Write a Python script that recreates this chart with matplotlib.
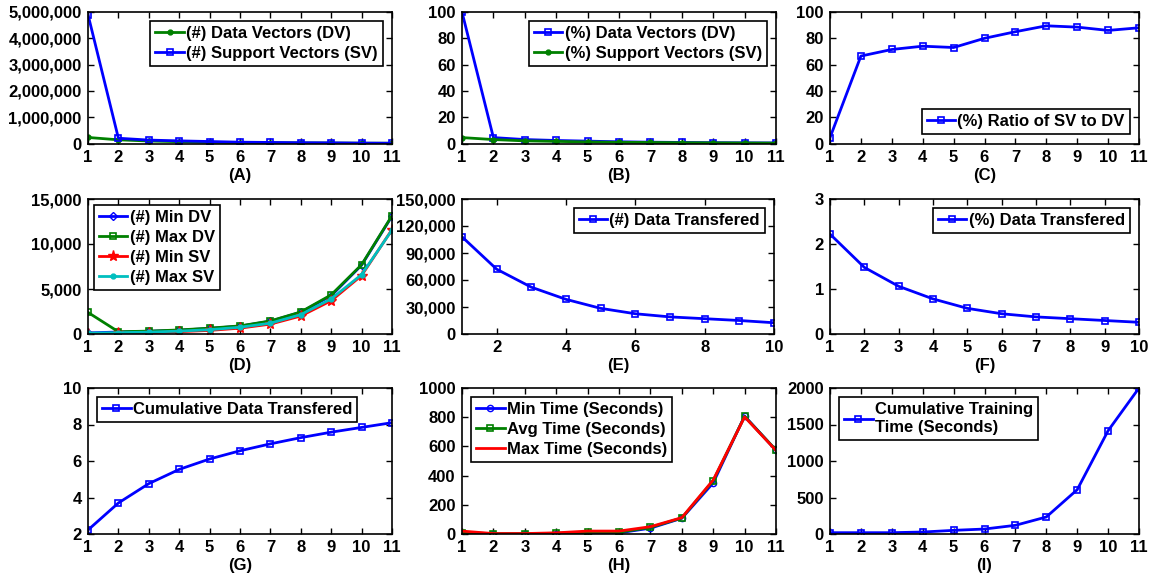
import matplotlib
matplotlib.use('Agg')
import matplotlib.pyplot as plt
from matplotlib.ticker import FuncFormatter

plt.rcParams['font.family'] = ['Liberation Sans', 'DejaVu Sans']
plt.rcParams['font.weight'] = 'bold'
plt.rcParams['font.size'] = 12

steps = list(range(1, 12))
steps10 = list(range(1, 11))

# (A) counts of data / support vectors
dv_count = [230000, 140000, 95000, 70000, 45000, 35000, 28000, 22000, 18000, 12000, 10000]
sv_count = [4900000, 200000, 130000, 100000, 75000, 50000, 40000, 30000, 25000, 15000, 10000]

# (B) percentages
dv_pct = [100, 4.5, 3.0, 2.3, 1.8, 1.3, 1.0, 0.8, 0.6, 0.5, 0.4]
sv_pct = [4.5, 3.0, 2.0, 1.6, 1.2, 0.9, 0.8, 0.6, 0.5, 0.4, 0.3]

# (C) ratio SV/DV
ratio = [4.5, 66.5, 71.5, 74, 73, 80, 85, 89.5, 88.5, 86, 88]

# (D) min / max vectors per node
min_dv = [120, 220, 300, 420, 620, 870, 1420, 2420, 4250, 7650, 13100]
max_dv = [2400, 250, 320, 450, 650, 900, 1450, 2450, 4350, 7700, 13150]
min_sv = [50, 80, 130, 260, 400, 650, 1100, 2000, 3700, 6500, 11600]
max_sv = [100, 150, 210, 320, 480, 750, 1200, 2150, 3900, 6600, 11550]

# (E), (F) data transfered
data_tx = [108000, 72000, 52000, 38500, 28500, 22500, 19000, 17000, 15000, 12500]
data_tx_pct = [2.22, 1.48, 1.06, 0.78, 0.57, 0.45, 0.38, 0.34, 0.30, 0.26]

# (G) cumulative data transfered
cum_tx = [2.22, 3.70, 4.76, 5.54, 6.11, 6.56, 6.94, 7.28, 7.58, 7.84, 8.10]

# (H) training times
min_time = [3, 1, 1, 2, 5, 8, 40, 108, 350, 808, 573]
avg_time = [10, 2, 2, 5, 12, 12, 45, 110, 365, 805, 575]
max_time = [20, 3, 3, 8, 20, 20, 50, 112, 370, 802, 572]

# (I) cumulative training time
cum_time = [18, 18, 18, 27, 50, 68, 119, 233, 607, 1415, 2000]

BLUE = (0, 0, 1)
GREEN = (0, 0.5, 0)
RED = (1, 0, 0)
CYAN = (0, 0.75, 0.75)

W, H = 1157, 577
fig = plt.figure(figsize=(W / 100, H / 100), dpi=100)


def make_ax(left, top, right, bottom):
    ax = fig.add_axes([left / W, 1 - bottom / H, (right - left) / W, (bottom - top) / H])
    ax.tick_params(direction='in', top=True, right=True, length=4, width=1, labelsize=12, pad=4.5)
    for s in ax.spines.values():
        s.set_linewidth(1.2)
    return ax


def comma(v, pos):
    return '{:,.0f}'.format(v)


def legend(ax, loc, pad=0.55):
    lg = ax.legend(loc=loc, fancybox=False, edgecolor='black', framealpha=1, handlelength=1.7,
                   handletextpad=0.15, borderpad=0.3, labelspacing=0.3, borderaxespad=pad,
                   prop={'weight': 'bold', 'size': 12})
    lg.get_frame().set_linewidth(1.2)
    return lg


def label(ax, s):
    ax.set_xlabel(s, fontsize=12, fontweight='bold', labelpad=2)


sq = dict(marker='s', markersize=4.5, markerfacecolor='none', markeredgewidth=1.2, lw=2)
dot = dict(marker='o', markersize=3.5, lw=2)

cols = [(88, 392), (462, 776), (830, 1139)]
rows = [(12, 143.5), (199, 334), (388, 534)]

# (A)
ax = make_ax(cols[0][0], rows[0][0], cols[0][1], rows[0][1])
ax.plot(steps, dv_count, color=GREEN, label='(#) Data Vectors (DV)', **dot)
ax.plot(steps, sv_count, color=BLUE, label='(#) Support Vectors (SV)', **sq)
ax.set_xlim(1, 11)
ax.set_ylim(0, 5000000)
ax.set_xticks(steps)
ax.set_yticks(range(0, 5000001, 1000000))
ax.yaxis.set_major_formatter(FuncFormatter(comma))
legend(ax, 'upper right')
label(ax, '(A)')

# (B)
ax = make_ax(cols[1][0], rows[0][0], cols[1][1], rows[0][1])
ax.plot(steps, dv_pct, color=BLUE, label='(%) Data Vectors (DV)', **sq)
ax.plot(steps, sv_pct, color=GREEN, label='(%) Support Vectors (SV)', **dot)
ax.set_xlim(1, 11)
ax.set_ylim(0, 100)
ax.set_xticks(steps)
ax.set_yticks(range(0, 101, 20))
legend(ax, 'upper right')
label(ax, '(B)')

# (C)
ax = make_ax(cols[2][0], rows[0][0], cols[2][1], rows[0][1])
ax.plot(steps, ratio, color=BLUE, label='(%) Ratio of SV to DV', **sq)
ax.set_xlim(1, 11)
ax.set_ylim(0, 100)
ax.set_xticks(steps)
ax.set_yticks(range(0, 101, 20))
legend(ax, 'lower right')
label(ax, '(C)')

# (D)
ax = make_ax(cols[0][0], rows[1][0], cols[0][1], rows[1][1])
ax.plot(steps, min_dv, color=BLUE, marker='D', markersize=4, markerfacecolor='none', lw=2, label='(#) Min DV')
ax.plot(steps, max_dv, color=GREEN, label='(#) Max DV', **sq)
ax.plot(steps, min_sv, color=RED, marker='*', markersize=8, lw=2, label='(#) Min SV')
ax.plot(steps, max_sv, color=CYAN, label='(#) Max SV', **dot)
ax.set_xlim(1, 11)
ax.set_ylim(0, 15000)
ax.set_xticks(steps)
ax.set_yticks([0, 5000, 10000, 15000])
ax.yaxis.set_major_formatter(FuncFormatter(comma))
legend(ax, 'upper left', pad=0.35)
label(ax, '(D)')

# (E)
ax = make_ax(cols[1][0], rows[1][0], 774, rows[1][1])
ax.plot(steps10, data_tx, color=BLUE, label='(#) Data Transfered', **sq)
ax.set_xlim(1, 10)
ax.set_ylim(0, 150000)
ax.set_xticks([2, 4, 6, 8, 10])
ax.set_yticks(range(0, 150001, 30000))
ax.yaxis.set_major_formatter(FuncFormatter(comma))
legend(ax, 'upper right')
label(ax, '(E)')

# (F)
ax = make_ax(cols[2][0], rows[1][0], cols[2][1], rows[1][1])
ax.plot(steps10, data_tx_pct, color=BLUE, label='(%) Data Transfered', **sq)
ax.set_xlim(1, 10)
ax.set_ylim(0, 3)
ax.set_xticks(steps10)
ax.set_yticks([0, 1, 2, 3])
legend(ax, 'upper right')
label(ax, '(F)')

# (G)
ax = make_ax(cols[0][0], rows[2][0], cols[0][1], rows[2][1])
ax.plot(steps, cum_tx, color=BLUE, label='Cumulative Data Transfered', **sq)
ax.set_xlim(1, 11)
ax.set_ylim(2, 10)
ax.set_xticks(steps)
ax.set_yticks(range(2, 11, 2))
legend(ax, 'upper left')
label(ax, '(G)')

# (H)
ax = make_ax(cols[1][0], rows[2][0], cols[1][1], rows[2][1])
ax.plot(steps, min_time, color=BLUE, marker='o', markersize=4.5, markerfacecolor='none', lw=2,
        label='Min Time (Seconds)')
ax.plot(steps, avg_time, color=GREEN, label='Avg Time (Seconds)', **sq)
ax.plot(steps, max_time, color=RED, lw=2, label='Max Time (Seconds)')
ax.set_xlim(1, 11)
ax.set_ylim(0, 1000)
ax.set_xticks(steps)
ax.set_yticks(range(0, 1001, 200))
legend(ax, 'upper left')
label(ax, '(H)')

# (I)
ax = make_ax(cols[2][0], rows[2][0], cols[2][1], rows[2][1])
ax.plot(steps, cum_time, color=BLUE, label='Cumulative Training\nTime (Seconds)', **sq)
ax.set_xlim(1, 11)
ax.set_ylim(0, 2000)
ax.set_xticks(steps)
ax.set_yticks(range(0, 2001, 500))
legend(ax, 'upper left')
label(ax, '(I)')

fig.savefig('out.png', dpi=100)
